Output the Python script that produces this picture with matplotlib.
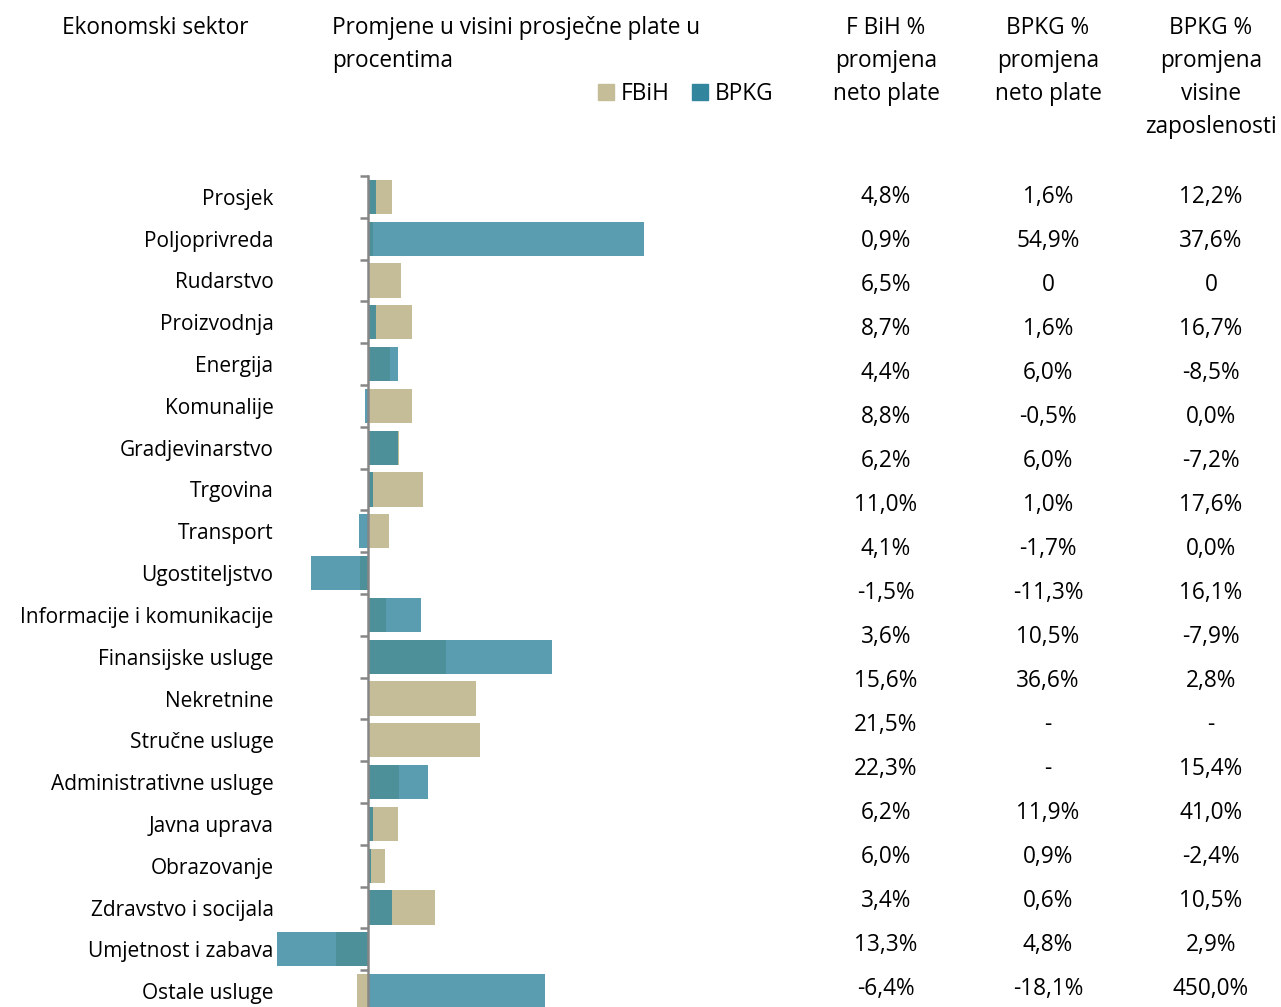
import matplotlib.pyplot as plt
import numpy as np

plt.rcParams['font.family'] = ['Open Sans', 'DejaVu Sans']

sectors = ['Prosjek', 'Poljoprivreda', 'Rudarstvo', 'Proizvodnja', 'Energija',
           'Komunalije', 'Gradjevinarstvo', 'Trgovina', 'Transport',
           'Ugostiteljstvo', 'Informacije i komunikacije', 'Finansijske usluge',
           'Nekretnine', 'Stručne usluge', 'Administrativne usluge',
           'Javna uprava', 'Obrazovanje', 'Zdravstvo i socijala',
           'Umjetnost i zabava', 'Ostale usluge']
# % change of net salary (None = no data)
fbih = [4.8, 0.9, 6.5, 8.7, 4.4, 8.8, 6.2, 11.0, 4.1, -1.5, 3.6, 15.6,
        21.5, 22.3, 6.2, 6.0, 3.4, 13.3, -6.4, -2.2]
bpkg = [1.6, 54.9, 0, 1.6, 6.0, -0.5, 6.0, 1.0, -1.7, -11.3, 10.5, 36.6,
        None, None, 11.9, 0.9, 0.6, 4.8, -18.1, 35.2]
# BPKG % change of employment
bpkg_emp = [12.2, 37.6, 0, 16.7, -8.5, 0.0, -7.2, 17.6, 0.0, 16.1, -7.9, 2.8,
            None, 15.4, 41.0, -2.4, 10.5, 2.9, 450.0, None]

c_fbih = '#C4BD97'
c_bpkg = '#31859C'

W, H = 1281, 1007
fig = plt.figure(figsize=(W / 100, H / 100), dpi=100)


def fx(x):
    return x / W


def fy(y):
    return 1 - (y + 2) / H


def fmt(v):
    if v is None:
        return '-'
    if isinstance(v, int):
        return str(v)
    return ('%.1f%%' % v).replace('.', ',')


# bar axes: zero at x=368, 5.03 px per %, rows 41.8 px from y=176
x0, sc = 368, 5.03
xmin, xmax = -20, 60
left = x0 + xmin * sc
right = x0 + xmax * sc
top, bot = 176, 176 + 20 * 41.8
ax = fig.add_axes([left / W, 1 - bot / H, (right - left) / W, (bot - top) / H])

y = np.arange(len(sectors))
fb = np.array(fbih, dtype=float)
bp = np.array([np.nan if v is None else v for v in bpkg], dtype=float)
ax.barh(y, fb, height=0.82, color=c_fbih, zorder=2)
ax.barh(y, np.nan_to_num(bp), height=0.82, color=c_bpkg, alpha=0.8, zorder=3)

ax.set_xlim(xmin, xmax)
ax.set_ylim(len(sectors) - 0.5, -0.5)
for s in ['top', 'right', 'bottom']:
    ax.spines[s].set_visible(False)
ax.spines['left'].set_position(('data', 0))
ax.spines['left'].set_color('#868686')
ax.spines['left'].set_linewidth(1.8)
ax.spines['left'].set_zorder(4)
ax.set_xticks([])
ax.set_yticks(y)
ax.set_yticklabels(sectors, fontsize=15)
ax.set_yticks(np.arange(-0.5, len(sectors), 1), minor=True)
ax.tick_params(axis='y', which='major', length=0, pad=68)
ax.tick_params(axis='y', which='minor', length=6, width=1.8, color='#868686',
               direction='out')
ax.patch.set_visible(False)

# headers
hs = 16.3
fig.text(fx(155), fy(26), 'Ekonomski sektor', ha='center', va='center', fontsize=hs)
fig.text(fx(332), fy(26), 'Promjene u visini prosječne plate u', ha='left',
         va='center', fontsize=hs)
fig.text(fx(332), fy(59), 'procentima', ha='left', va='center', fontsize=hs)
cols = [(886, ['F BiH %', 'promjena', 'neto plate']),
        (1048, ['BPKG %', 'promjena', 'neto plate']),
        (1211, ['BPKG %', 'promjena', 'visine', 'zaposlenosti'])]
for cx, lines in cols:
    for i, t in enumerate(lines):
        fig.text(fx(cx), fy(26 + 33 * i), t, ha='center', va='center', fontsize=hs)

# legend
for sx, col, lab in [(598, c_fbih, 'FBiH'), (692, c_bpkg, 'BPKG')]:
    fig.patches.append(plt.Rectangle((fx(sx), 1 - 100 / H), 16 / W, 16 / H,
                                     transform=fig.transFigure, color=col))
    fig.text(fx(sx + 23), fy(92), lab, ha='left', va='center', fontsize=hs)

# table (rows are spaced a bit wider than the bars; the last one falls off the page)
for i in range(len(sectors)):
    ty = 195 + 44 * i
    if ty > H - 10:
        continue
    for cx, vals in [(886, fbih), (1048, bpkg), (1211, bpkg_emp)]:
        fig.text(fx(cx), fy(ty), fmt(vals[i]), ha='center', va='center',
                 fontsize=hs)

fig.savefig('out.png', dpi=100)
